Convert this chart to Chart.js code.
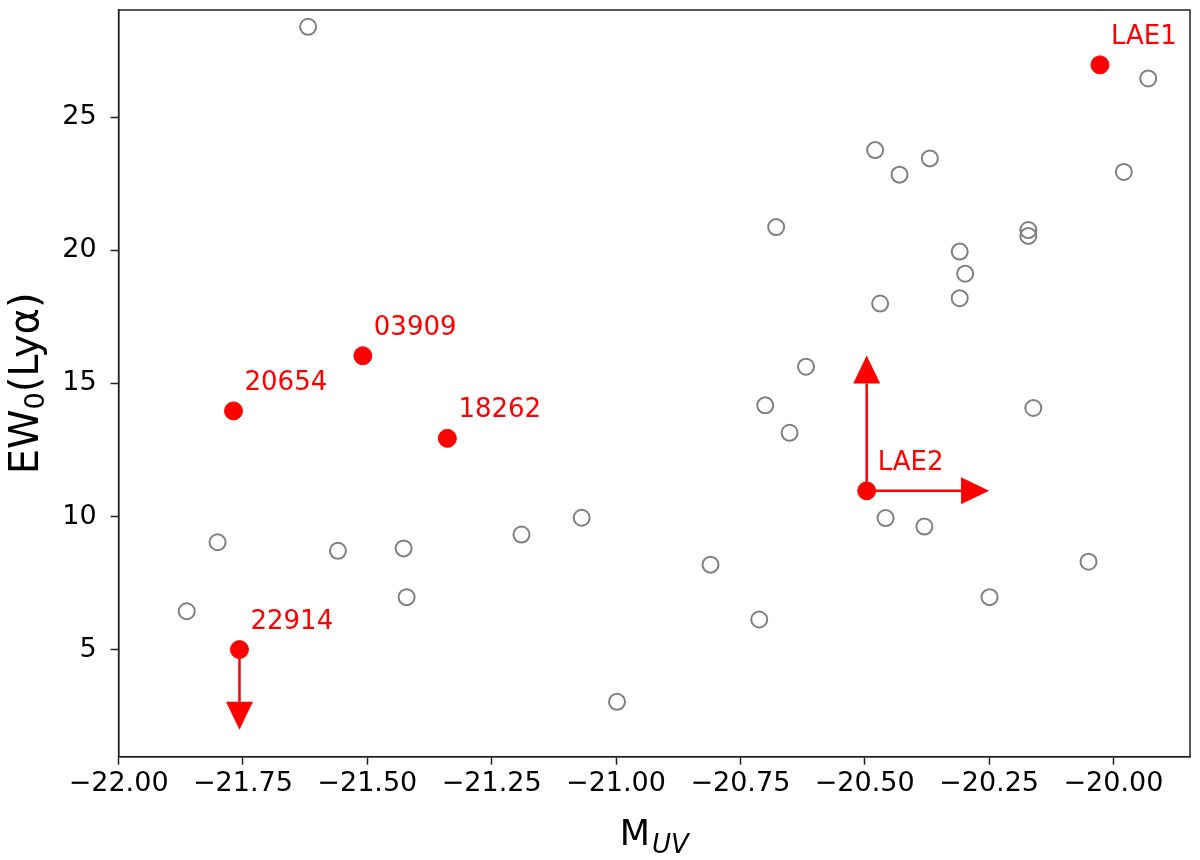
<!DOCTYPE html>
<html>
<head>
<meta charset="utf-8">
<script src="https://cdn.jsdelivr.net/npm/chart.js@4.4.1/dist/chart.umd.min.js"></script>
<style>
  html, body { margin: 0; padding: 0; background: #fff; }
  #wrap { width: 1200px; height: 860px; }
</style>
</head>
<body>
<div id="wrap"><canvas id="chart"></canvas></div>
<script>
// comparison sample (open grey circles)
const grayX = [-21.863, -21.801, -21.619, -21.559, -21.427, -21.421, -21.190, -21.069, -20.998,
  -20.810, -20.712, -20.678, -20.700, -20.651, -20.618, -20.479, -20.469, -20.458, -20.430,
  -20.369, -20.380, -20.309, -20.298, -20.309, -20.249, -20.171, -20.171, -20.161, -20.050,
  -19.979, -19.930];
const grayY = [6.45, 9.04, 28.39, 8.72, 8.81, 6.98, 9.33, 9.96, 3.05,
  8.20, 6.14, 20.87, 14.18, 13.15, 15.63, 23.76, 18.00, 9.95, 22.84,
  23.45, 9.63, 19.95, 19.12, 18.20, 6.98, 20.76, 20.54, 14.08, 8.31,
  22.94, 26.45];

// labelled objects (red)
const redNames = ['LAE1', '03909', '20654', '18262', '22914', 'LAE2'];
const redX = [-20.027, -21.509, -21.769, -21.339, -21.757, -20.496];
const redY = [26.96, 16.04, 13.97, 12.94, 5.01, 10.97];

// limits: start -> tip
const arrowX0 = [-21.757, -20.496, -20.496];
const arrowY0 = [5.01, 10.97, 10.97];
const arrowX1 = [-21.757, -20.496, -20.25];
const arrowY1 = [2.0, 16.05, 10.97];

const xMin = -22.0, xMax = -19.846;
const yMin = 0.99, yMax = 29.02;

const FONT = '"DejaVu Sans", sans-serif';
const minus = v => (v < 0 ? '\u2212' : '') + Math.abs(v).toFixed(2);

const overlay = {
  id: 'overlay',
  beforeDatasetsDraw(chart) {
    const {ctx, scales: {x, y}} = chart;
    ctx.save();
    ctx.strokeStyle = '#ff0000';
    ctx.fillStyle = '#ff0000';
    ctx.lineWidth = 2.5;
    for (let i = 0; i < arrowX0.length; i++) {
      const x0 = x.getPixelForValue(arrowX0[i]), y0 = y.getPixelForValue(arrowY0[i]);
      const x1 = x.getPixelForValue(arrowX1[i]), y1 = y.getPixelForValue(arrowY1[i]);
      const a = Math.atan2(y1 - y0, x1 - x0);
      const hl = 28, hw = 13.5;
      const bx = x1 - hl * Math.cos(a), by = y1 - hl * Math.sin(a);
      ctx.beginPath();
      ctx.moveTo(x0, y0);
      ctx.lineTo(bx, by);
      ctx.stroke();
      ctx.beginPath();
      ctx.moveTo(x1, y1);
      ctx.lineTo(bx + hw * Math.sin(a), by - hw * Math.cos(a));
      ctx.lineTo(bx - hw * Math.sin(a), by + hw * Math.cos(a));
      ctx.closePath();
      ctx.fill();
    }
    ctx.restore();
  },
  afterDatasetsDraw(chart) {
    const {ctx, scales: {x, y}} = chart;
    ctx.save();
    ctx.fillStyle = '#ff0000';
    ctx.font = '26px ' + FONT;
    ctx.textAlign = 'left';
    ctx.textBaseline = 'alphabetic';
    redNames.forEach((n, i) => {
      ctx.fillText(n, x.getPixelForValue(redX[i]) + 11, y.getPixelForValue(redY[i]) - 21);
    });
    ctx.restore();
  },
  afterDraw(chart) {
    const {ctx, chartArea: ca} = chart;
    ctx.save();
    // frame
    ctx.strokeStyle = '#222';
    ctx.lineWidth = 1.5;
    ctx.strokeRect(ca.left, ca.top, ca.right - ca.left, ca.bottom - ca.top);

    ctx.fillStyle = '#000';
    ctx.textBaseline = 'alphabetic';
    ctx.textAlign = 'left';

    // x title: M_UV
    const bigX = '35px ' + FONT, subX = 'italic 26px ' + FONT;
    ctx.font = bigX;
    const wM = ctx.measureText('M').width;
    ctx.font = subX;
    const wUV = ctx.measureText('UV').width;
    const cx = (ca.left + ca.right) / 2;
    const sx = cx - (wM + 2 + wUV) / 2;
    ctx.font = bigX;
    ctx.fillText('M', sx, 845);
    ctx.font = subX;
    ctx.fillText('UV', sx + wM + 2, 853);

    // y title: EW_0(Lyα)
    const bigY = '40px ' + FONT, subY = '27px ' + FONT;
    ctx.font = bigY;
    const w1 = ctx.measureText('EW').width;
    const w3 = ctx.measureText('(Ly\u03b1)').width;
    ctx.font = subY;
    const w2 = ctx.measureText('0').width;
    const total = w1 + w2 + w3;
    ctx.translate(38, (ca.top + ca.bottom) / 2);
    ctx.rotate(-Math.PI / 2);
    let p = -total / 2;
    ctx.font = bigY;
    ctx.fillText('EW', p, 0);
    p += w1;
    ctx.font = subY;
    ctx.fillText('0', p, 6);
    p += w2;
    ctx.font = bigY;
    ctx.fillText('(Ly\u03b1)', p, 0);
    ctx.restore();
  }
};

new Chart(document.getElementById('chart'), {
  type: 'scatter',
  data: {
    datasets: [
      {
        label: 'sample',
        data: grayX.map((v, i) => ({x: v, y: grayY[i]})),
        pointRadius: 8,
        borderWidth: 2,
        borderColor: '#808080',
        backgroundColor: 'rgba(0,0,0,0)'
      },
      {
        label: 'LAEs',
        data: redX.map((v, i) => ({x: v, y: redY[i]})),
        pointRadius: 9,
        borderWidth: 1,
        borderColor: '#ff0000',
        backgroundColor: '#ff0000'
      }
    ]
  },
  options: {
    responsive: true,
    maintainAspectRatio: false,
    animation: false,
    events: [],
    layout: { padding: { left: 0, right: 3.5, top: 7.3, bottom: 0 } },
    plugins: {
      legend: { display: false },
      tooltip: { enabled: false }
    },
    scales: {
      x: {
        type: 'linear',
        min: xMin,
        max: xMax,
        afterFit: s => { s.height = 103.3; s.paddingLeft = 0; s.paddingRight = 0; },
        border: { display: true, color: '#222', width: 1.5 },
        grid: { drawOnChartArea: false, drawTicks: true, tickLength: 8, tickWidth: 1.5, tickColor: '#222' },
        ticks: {
          stepSize: 0.25,
          includeBounds: false,
          padding: 3,
          maxRotation: 0,
          autoSkip: false,
          color: '#000',
          font: { family: FONT, size: 27 },
          callback: v => minus(v)
        }
      },
      y: {
        type: 'linear',
        min: yMin,
        max: yMax,
        afterFit: s => { s.width = 118.6; s.paddingTop = 0; s.paddingBottom = 0; },
        border: { display: true, color: '#222', width: 1.5 },
        grid: { drawOnChartArea: false, drawTicks: true, tickLength: 8, tickWidth: 1.5, tickColor: '#222' },
        ticks: {
          stepSize: 5,
          includeBounds: false,
          padding: 14,
          color: '#000',
          font: { family: FONT, size: 27 },
          callback: v => String(v)
        }
      }
    }
  },
  plugins: [overlay]
});
</script>
</body>
</html>
